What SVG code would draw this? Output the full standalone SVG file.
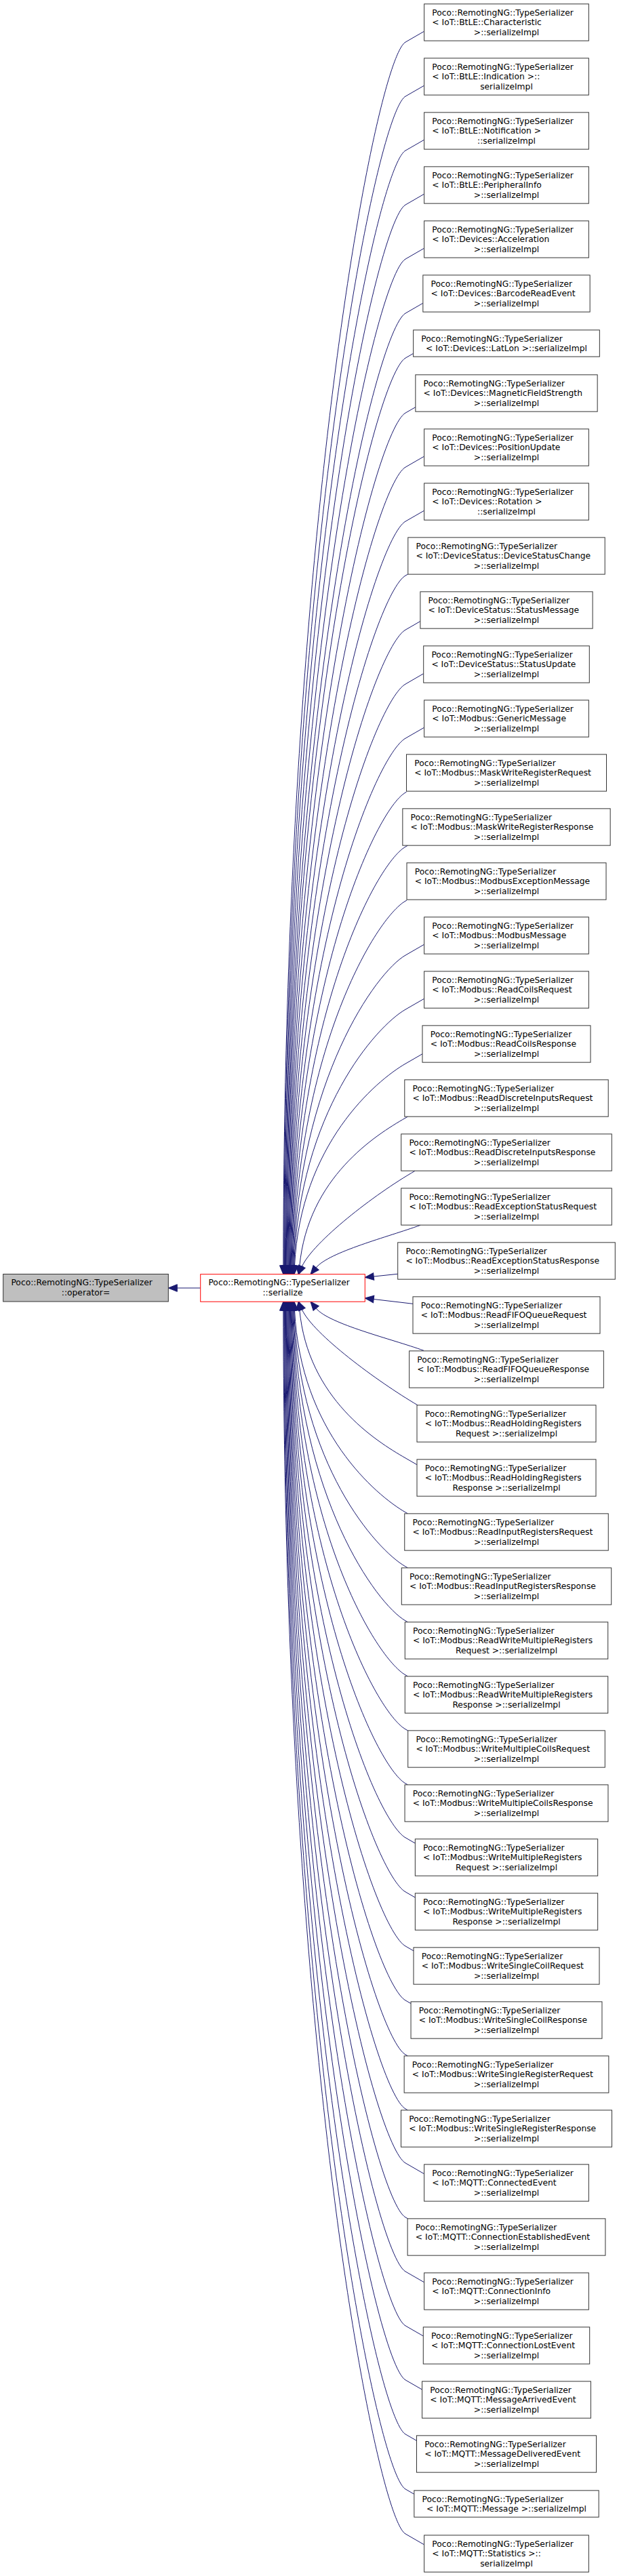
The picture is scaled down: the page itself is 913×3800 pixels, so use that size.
<svg xmlns="http://www.w3.org/2000/svg" width="913" height="3800" viewBox="0 0 913 3800">
<style>
.node rect{fill:#fff;stroke:#333;stroke-width:1}
text{font-family:"DejaVu Sans","Liberation Sans",sans-serif;font-size:12.3px;fill:#000}
.m{text-anchor:middle}
.e{fill:none;stroke:#191970;stroke-width:1;marker-end:url(#ah)}
</style>
<defs>
<marker id="ah" viewBox="-1 -7 16 14" markerWidth="16" markerHeight="14" refX="0" refY="0" orient="auto" markerUnits="userSpaceOnUse"><path d="M0,-5.3 L13,0 L0,5.3 z" fill="#191970" stroke="#191970" stroke-width="1"/></marker>
</defs>
<rect width="913" height="3800" fill="#fff"/>
<g id="edges">
<path class="e" d="M295.7,1900 L261.3,1900"/>
<path class="e" d="M625.65,46.2 L598,62.15 C554.7,87.15 418.3,784.1 417.9,1867"/>
<path class="e" d="M625.65,126.2 L598,142.15 C554.7,167.15 419.6,832.1 418.75,1867"/>
<path class="e" d="M625.65,206.2 L598,222.15 C554.7,247.15 420.9,880.1 419.6,1867"/>
<path class="e" d="M625.65,286.2 L598,302.15 C554.7,327.15 422.25,928.1 420.5,1867"/>
<path class="e" d="M625.65,366.2 L598,382.15 C554.7,407.15 423.6,976.1 421.4,1867"/>
<path class="e" d="M623.85,447.2 L598,462.15 C554.7,487.15 424.9,1024.1 422.25,1867"/>
<path class="e" d="M609.65,521.4 L598,528.15 C554.7,553.15 426.2,1063.7 423.1,1867"/>
<path class="e" d="M612.85,600.6 L598,609.15 C554.7,634.15 427.5,1112.3 424,1867"/>
<path class="e" d="M625.65,673.2 L598,689.15 C554.7,714.15 428.8,1160.3 424.9,1867"/>
<path class="e" d="M625.65,753.2 L598,769.15 C554.7,794.15 430.1,1208.3 425.75,1867"/>
<path class="e" d="M601.8,846.95 L598,849.15 C554.7,874.15 431.4,1256.3 426.6,1867"/>
<path class="e" d="M619.9,916.5 L598,929.15 C554.7,954.15 432.75,1304.3 427.5,1867"/>
<path class="e" d="M624.7,993.7 L598,1009.15 C554.7,1034.15 434.1,1352.3 428.4,1867"/>
<path class="e" d="M625.65,1073.2 L598,1089.15 C554.7,1114.15 435.4,1400.3 429.25,1867"/>
<path class="e" d="M599.5,1168.3 L598,1169.15 C554.7,1194.15 436.7,1448.3 430.1,1867"/>
<path class="e" d="M601.5,1247.15 L598,1249.15 C554.7,1274.15 438,1496.3 431,1867"/>
<path class="e" d="M600,1328 L598,1329.15 C554.7,1354.15 439.4,1544.3 431.9,1867"/>
<path class="e" d="M625.65,1393.2 L598,1409.15 C554.7,1434.15 440.6,1592.3 432.75,1867"/>
<path class="e" d="M625.65,1473.2 L598,1489.15 C554.7,1514.15 441.9,1640.3 433.6,1867"/>
<path class="e" d="M623,1554.7 L598,1569.15 C554.7,1594.15 443.25,1688.3 434.5,1867"/>
<path class="e" d="M601.5,1647.15 L598,1649.15 C554.7,1674.15 454.2,1736.65 441.8,1867.9"/>
<path class="e" d="M612,1727.3 C551.4,1762.3 462.1,1831.8 445.4,1868.2"/>
<path class="e" d="M620,1807.3 C573,1824.4 485.2,1846.8 466.2,1870"/>
<path class="e" d="M586.7,1879.3 L551.2,1883"/>
<path class="e" d="M609,1923.3 L551.2,1916.5"/>
<path class="e" d="M625,1992.3 C578,1975.2 485.2,1953.2 466.2,1930"/>
<path class="e" d="M616,2072.85 C556.4,2037.7 462.1,1968.2 445.4,1931.8"/>
<path class="e" d="M615,2160.7 L598,2150.85 C554.7,2125.85 454.2,2063.35 441.8,1932.1"/>
<path class="e" d="M601.5,2232.85 L598,2230.85 C554.7,2205.85 443.25,2111.7 434.5,1933"/>
<path class="e" d="M601.5,2312.85 L598,2310.85 C554.7,2285.85 441.9,2159.7 433.6,1933"/>
<path class="e" d="M601.5,2392.85 L598,2390.85 C554.7,2365.85 440.6,2207.7 432.75,1933"/>
<path class="e" d="M601.5,2472.85 L598,2470.85 C554.7,2445.85 439.4,2255.7 431.9,1933"/>
<path class="e" d="M601.7,2553 L598,2550.85 C554.7,2525.85 438,2303.7 431,1933"/>
<path class="e" d="M601.5,2632.85 L598,2630.85 C554.7,2605.85 436.7,2351.7 430.1,1933"/>
<path class="e" d="M612.35,2719.1 L598,2710.85 C554.7,2685.85 435.4,2399.7 429.25,1933"/>
<path class="e" d="M612.35,2799.1 L598,2790.85 C554.7,2765.85 434.1,2447.7 428.4,1933"/>
<path class="e" d="M610,2877.8 L598,2870.85 C554.7,2845.85 432.75,2495.7 427.5,1933"/>
<path class="e" d="M606.05,2955.5 L598,2950.85 C554.7,2925.85 431.4,2543.7 426.6,1933"/>
<path class="e" d="M601.5,3032.85 L598,3030.85 C554.7,3005.85 430.1,2591.7 425.75,1933"/>
<path class="e" d="M601.5,3112.85 L598,3110.85 C554.7,3085.85 428.8,2639.7 424.9,1933"/>
<path class="e" d="M625.65,3206.8 L598,3190.85 C554.7,3165.85 427.5,2687.7 424,1933"/>
<path class="e" d="M601.5,3272.85 L598,3270.85 C554.7,3245.85 426.2,2735.7 423.1,1933"/>
<path class="e" d="M625.65,3366.8 L598,3350.85 C554.7,3325.85 424.9,2783.7 422.25,1933"/>
<path class="e" d="M624.3,3446 L598,3430.85 C554.7,3405.85 423.6,2831.7 421.4,1933"/>
<path class="e" d="M622.6,3525 L598,3510.85 C554.7,3485.85 422.25,2879.7 420.5,1933"/>
<path class="e" d="M614.5,3600.4 L598,3590.85 C554.7,3565.85 420.9,2927.7 419.6,1933"/>
<path class="e" d="M610.85,3679.3 L598,3671.85 C554.7,3646.85 419.6,2976.3 418.75,1933"/>
<path class="e" d="M625.65,3753.8 L598,3737.85 C554.7,3712.85 418.3,3015.9 417.9,1933"/>
</g>
<g id="operator_eq" class="node"><rect x="4.7" y="1879.5" width="243.6" height="40.5" style="fill:#bfbfbf"/><text x="16.4" y="1896.2">Poco::RemotingNG::TypeSerializer</text><text class="m" x="126.5" y="1910.9">::operator=</text></g>
<g id="serialize" class="node"><rect x="295.7" y="1879.7" width="242.6" height="40.5" style="stroke:#f00"/><text x="307.4" y="1896.4">Poco::RemotingNG::TypeSerializer</text><text class="m" x="417" y="1911.1">::serialize</text></g>
<g id="n1" class="node" transform="translate(625.65,33)"><rect x="0" y="-27.15" width="242.7" height="54.3"/><text x="11.7" y="-10.2">Poco::RemotingNG::TypeSerializer</text><text x="11.7" y="4.3">&lt; IoT::BtLE::Characteristic</text><text class="m" x="121.35" y="18.8">&gt;::serializeImpl</text></g>
<g id="n2" class="node" transform="translate(625.65,113)"><rect x="0" y="-27.15" width="242.7" height="54.3"/><text x="11.7" y="-10.2">Poco::RemotingNG::TypeSerializer</text><text x="11.7" y="4.3">&lt; IoT::BtLE::Indication &gt;::</text><text class="m" x="121.35" y="18.8">serializeImpl</text></g>
<g id="n3" class="node" transform="translate(625.65,193)"><rect x="0" y="-27.15" width="242.7" height="54.3"/><text x="11.7" y="-10.2">Poco::RemotingNG::TypeSerializer</text><text x="11.7" y="4.3">&lt; IoT::BtLE::Notification &gt;</text><text class="m" x="121.35" y="18.8">::serializeImpl</text></g>
<g id="n4" class="node" transform="translate(625.65,273)"><rect x="0" y="-27.15" width="242.7" height="54.3"/><text x="11.7" y="-10.2">Poco::RemotingNG::TypeSerializer</text><text x="11.7" y="4.3">&lt; IoT::BtLE::PeripheralInfo</text><text class="m" x="121.35" y="18.8">&gt;::serializeImpl</text></g>
<g id="n5" class="node" transform="translate(625.65,353)"><rect x="0" y="-27.15" width="242.7" height="54.3"/><text x="11.7" y="-10.2">Poco::RemotingNG::TypeSerializer</text><text x="11.7" y="4.3">&lt; IoT::Devices::Acceleration</text><text class="m" x="121.35" y="18.8">&gt;::serializeImpl</text></g>
<g id="n6" class="node" transform="translate(623.85,433)"><rect x="0" y="-27.15" width="246.3" height="54.3"/><text x="11.7" y="-10.2">Poco::RemotingNG::TypeSerializer</text><text x="11.7" y="4.3">&lt; IoT::Devices::BarcodeReadEvent</text><text class="m" x="123.15" y="18.8">&gt;::serializeImpl</text></g>
<g id="n7" class="node" transform="translate(609.65,506.5)"><rect x="0" y="-19.65" width="274.7" height="39.3"/><text x="11.7" y="-3">Poco::RemotingNG::TypeSerializer</text><text class="m" x="137.35" y="11.5">&lt; IoT::Devices::LatLon &gt;::serializeImpl</text></g>
<g id="n8" class="node" transform="translate(612.85,580)"><rect x="0" y="-27.15" width="268.3" height="54.3"/><text x="11.7" y="-10.2">Poco::RemotingNG::TypeSerializer</text><text x="11.7" y="4.3">&lt; IoT::Devices::MagneticFieldStrength</text><text class="m" x="134.15" y="18.8">&gt;::serializeImpl</text></g>
<g id="n9" class="node" transform="translate(625.65,660)"><rect x="0" y="-27.15" width="242.7" height="54.3"/><text x="11.7" y="-10.2">Poco::RemotingNG::TypeSerializer</text><text x="11.7" y="4.3">&lt; IoT::Devices::PositionUpdate</text><text class="m" x="121.35" y="18.8">&gt;::serializeImpl</text></g>
<g id="n10" class="node" transform="translate(625.65,740)"><rect x="0" y="-27.15" width="242.7" height="54.3"/><text x="11.7" y="-10.2">Poco::RemotingNG::TypeSerializer</text><text x="11.7" y="4.3">&lt; IoT::Devices::Rotation &gt;</text><text class="m" x="121.35" y="18.8">::serializeImpl</text></g>
<g id="n11" class="node" transform="translate(601.8,820)"><rect x="0" y="-27.15" width="290.4" height="54.3"/><text x="11.7" y="-10.2">Poco::RemotingNG::TypeSerializer</text><text x="11.7" y="4.3">&lt; IoT::DeviceStatus::DeviceStatusChange</text><text class="m" x="145.2" y="18.8">&gt;::serializeImpl</text></g>
<g id="n12" class="node" transform="translate(619.9,900)"><rect x="0" y="-27.15" width="254.2" height="54.3"/><text x="11.7" y="-10.2">Poco::RemotingNG::TypeSerializer</text><text x="11.7" y="4.3">&lt; IoT::DeviceStatus::StatusMessage</text><text class="m" x="127.1" y="18.8">&gt;::serializeImpl</text></g>
<g id="n13" class="node" transform="translate(624.7,980)"><rect x="0" y="-27.15" width="244.6" height="54.3"/><text x="11.7" y="-10.2">Poco::RemotingNG::TypeSerializer</text><text x="11.7" y="4.3">&lt; IoT::DeviceStatus::StatusUpdate</text><text class="m" x="122.3" y="18.8">&gt;::serializeImpl</text></g>
<g id="n14" class="node" transform="translate(625.65,1060)"><rect x="0" y="-27.15" width="242.7" height="54.3"/><text x="11.7" y="-10.2">Poco::RemotingNG::TypeSerializer</text><text x="11.7" y="4.3">&lt; IoT::Modbus::GenericMessage</text><text class="m" x="121.35" y="18.8">&gt;::serializeImpl</text></g>
<g id="n15" class="node" transform="translate(599.5,1140)"><rect x="0" y="-27.15" width="295" height="54.3"/><text x="11.7" y="-10.2">Poco::RemotingNG::TypeSerializer</text><text x="11.7" y="4.3">&lt; IoT::Modbus::MaskWriteRegisterRequest</text><text class="m" x="147.5" y="18.8">&gt;::serializeImpl</text></g>
<g id="n16" class="node" transform="translate(593.85,1220)"><rect x="0" y="-27.15" width="306.3" height="54.3"/><text x="11.7" y="-10.2">Poco::RemotingNG::TypeSerializer</text><text x="11.7" y="4.3">&lt; IoT::Modbus::MaskWriteRegisterResponse</text><text class="m" x="153.15" y="18.8">&gt;::serializeImpl</text></g>
<g id="n17" class="node" transform="translate(600,1300)"><rect x="0" y="-27.15" width="294" height="54.3"/><text x="11.7" y="-10.2">Poco::RemotingNG::TypeSerializer</text><text x="11.7" y="4.3">&lt; IoT::Modbus::ModbusExceptionMessage</text><text class="m" x="147" y="18.8">&gt;::serializeImpl</text></g>
<g id="n18" class="node" transform="translate(625.65,1380)"><rect x="0" y="-27.15" width="242.7" height="54.3"/><text x="11.7" y="-10.2">Poco::RemotingNG::TypeSerializer</text><text x="11.7" y="4.3">&lt; IoT::Modbus::ModbusMessage</text><text class="m" x="121.35" y="18.8">&gt;::serializeImpl</text></g>
<g id="n19" class="node" transform="translate(625.65,1460)"><rect x="0" y="-27.15" width="242.7" height="54.3"/><text x="11.7" y="-10.2">Poco::RemotingNG::TypeSerializer</text><text x="11.7" y="4.3">&lt; IoT::Modbus::ReadCoilsRequest</text><text class="m" x="121.35" y="18.8">&gt;::serializeImpl</text></g>
<g id="n20" class="node" transform="translate(623,1540)"><rect x="0" y="-27.15" width="248" height="54.3"/><text x="11.7" y="-10.2">Poco::RemotingNG::TypeSerializer</text><text x="11.7" y="4.3">&lt; IoT::Modbus::ReadCoilsResponse</text><text class="m" x="124" y="18.8">&gt;::serializeImpl</text></g>
<g id="n21" class="node" transform="translate(596.8,1620)"><rect x="0" y="-27.15" width="300.4" height="54.3"/><text x="11.7" y="-10.2">Poco::RemotingNG::TypeSerializer</text><text x="11.7" y="4.3">&lt; IoT::Modbus::ReadDiscreteInputsRequest</text><text class="m" x="150.2" y="18.8">&gt;::serializeImpl</text></g>
<g id="n22" class="node" transform="translate(591.7,1700)"><rect x="0" y="-27.15" width="310.6" height="54.3"/><text x="11.7" y="-10.2">Poco::RemotingNG::TypeSerializer</text><text x="11.7" y="4.3">&lt; IoT::Modbus::ReadDiscreteInputsResponse</text><text class="m" x="155.3" y="18.8">&gt;::serializeImpl</text></g>
<g id="n23" class="node" transform="translate(591.7,1780)"><rect x="0" y="-27.15" width="310.6" height="54.3"/><text x="11.7" y="-10.2">Poco::RemotingNG::TypeSerializer</text><text x="11.7" y="4.3">&lt; IoT::Modbus::ReadExceptionStatusRequest</text><text class="m" x="155.3" y="18.8">&gt;::serializeImpl</text></g>
<g id="n24" class="node" transform="translate(586.7,1860)"><rect x="0" y="-27.15" width="320.6" height="54.3"/><text x="11.7" y="-10.2">Poco::RemotingNG::TypeSerializer</text><text x="11.7" y="4.3">&lt; IoT::Modbus::ReadExceptionStatusResponse</text><text class="m" x="160.3" y="18.8">&gt;::serializeImpl</text></g>
<g id="n25" class="node" transform="translate(609,1940)"><rect x="0" y="-27.15" width="276" height="54.3"/><text x="11.7" y="-10.2">Poco::RemotingNG::TypeSerializer</text><text x="11.7" y="4.3">&lt; IoT::Modbus::ReadFIFOQueueRequest</text><text class="m" x="138" y="18.8">&gt;::serializeImpl</text></g>
<g id="n26" class="node" transform="translate(603.65,2020)"><rect x="0" y="-27.15" width="286.7" height="54.3"/><text x="11.7" y="-10.2">Poco::RemotingNG::TypeSerializer</text><text x="11.7" y="4.3">&lt; IoT::Modbus::ReadFIFOQueueResponse</text><text class="m" x="143.35" y="18.8">&gt;::serializeImpl</text></g>
<g id="n27" class="node" transform="translate(615,2100)"><rect x="0" y="-27.15" width="264" height="54.3"/><text x="11.7" y="-10.2">Poco::RemotingNG::TypeSerializer</text><text x="11.7" y="4.3">&lt; IoT::Modbus::ReadHoldingRegisters</text><text class="m" x="132" y="18.8">Request &gt;::serializeImpl</text></g>
<g id="n28" class="node" transform="translate(615,2180)"><rect x="0" y="-27.15" width="264" height="54.3"/><text x="11.7" y="-10.2">Poco::RemotingNG::TypeSerializer</text><text x="11.7" y="4.3">&lt; IoT::Modbus::ReadHoldingRegisters</text><text class="m" x="132" y="18.8">Response &gt;::serializeImpl</text></g>
<g id="n29" class="node" transform="translate(596.75,2260)"><rect x="0" y="-27.15" width="300.5" height="54.3"/><text x="11.7" y="-10.2">Poco::RemotingNG::TypeSerializer</text><text x="11.7" y="4.3">&lt; IoT::Modbus::ReadInputRegistersRequest</text><text class="m" x="150.25" y="18.8">&gt;::serializeImpl</text></g>
<g id="n30" class="node" transform="translate(592.3,2340)"><rect x="0" y="-27.15" width="309.4" height="54.3"/><text x="11.7" y="-10.2">Poco::RemotingNG::TypeSerializer</text><text x="11.7" y="4.3">&lt; IoT::Modbus::ReadInputRegistersResponse</text><text class="m" x="154.7" y="18.8">&gt;::serializeImpl</text></g>
<g id="n31" class="node" transform="translate(597.3,2420)"><rect x="0" y="-27.15" width="299.4" height="54.3"/><text x="11.7" y="-10.2">Poco::RemotingNG::TypeSerializer</text><text x="11.7" y="4.3">&lt; IoT::Modbus::ReadWriteMultipleRegisters</text><text class="m" x="149.7" y="18.8">Request &gt;::serializeImpl</text></g>
<g id="n32" class="node" transform="translate(597.3,2500)"><rect x="0" y="-27.15" width="299.4" height="54.3"/><text x="11.7" y="-10.2">Poco::RemotingNG::TypeSerializer</text><text x="11.7" y="4.3">&lt; IoT::Modbus::ReadWriteMultipleRegisters</text><text class="m" x="149.7" y="18.8">Response &gt;::serializeImpl</text></g>
<g id="n33" class="node" transform="translate(601.7,2580)"><rect x="0" y="-27.15" width="290.6" height="54.3"/><text x="11.7" y="-10.2">Poco::RemotingNG::TypeSerializer</text><text x="11.7" y="4.3">&lt; IoT::Modbus::WriteMultipleCoilsRequest</text><text class="m" x="145.3" y="18.8">&gt;::serializeImpl</text></g>
<g id="n34" class="node" transform="translate(597.05,2660)"><rect x="0" y="-27.15" width="299.9" height="54.3"/><text x="11.7" y="-10.2">Poco::RemotingNG::TypeSerializer</text><text x="11.7" y="4.3">&lt; IoT::Modbus::WriteMultipleCoilsResponse</text><text class="m" x="149.95" y="18.8">&gt;::serializeImpl</text></g>
<g id="n35" class="node" transform="translate(612.35,2740)"><rect x="0" y="-27.15" width="269.3" height="54.3"/><text x="11.7" y="-10.2">Poco::RemotingNG::TypeSerializer</text><text x="11.7" y="4.3">&lt; IoT::Modbus::WriteMultipleRegisters</text><text class="m" x="134.65" y="18.8">Request &gt;::serializeImpl</text></g>
<g id="n36" class="node" transform="translate(612.35,2820)"><rect x="0" y="-27.15" width="269.3" height="54.3"/><text x="11.7" y="-10.2">Poco::RemotingNG::TypeSerializer</text><text x="11.7" y="4.3">&lt; IoT::Modbus::WriteMultipleRegisters</text><text class="m" x="134.65" y="18.8">Response &gt;::serializeImpl</text></g>
<g id="n37" class="node" transform="translate(610,2900)"><rect x="0" y="-27.15" width="274" height="54.3"/><text x="11.7" y="-10.2">Poco::RemotingNG::TypeSerializer</text><text x="11.7" y="4.3">&lt; IoT::Modbus::WriteSingleCoilRequest</text><text class="m" x="137" y="18.8">&gt;::serializeImpl</text></g>
<g id="n38" class="node" transform="translate(606.05,2980)"><rect x="0" y="-27.15" width="281.9" height="54.3"/><text x="11.7" y="-10.2">Poco::RemotingNG::TypeSerializer</text><text x="11.7" y="4.3">&lt; IoT::Modbus::WriteSingleCoilResponse</text><text class="m" x="140.95" y="18.8">&gt;::serializeImpl</text></g>
<g id="n39" class="node" transform="translate(596.15,3060)"><rect x="0" y="-27.15" width="301.7" height="54.3"/><text x="11.7" y="-10.2">Poco::RemotingNG::TypeSerializer</text><text x="11.7" y="4.3">&lt; IoT::Modbus::WriteSingleRegisterRequest</text><text class="m" x="150.85" y="18.8">&gt;::serializeImpl</text></g>
<g id="n40" class="node" transform="translate(591.5,3140)"><rect x="0" y="-27.15" width="311" height="54.3"/><text x="11.7" y="-10.2">Poco::RemotingNG::TypeSerializer</text><text x="11.7" y="4.3">&lt; IoT::Modbus::WriteSingleRegisterResponse</text><text class="m" x="155.5" y="18.8">&gt;::serializeImpl</text></g>
<g id="n41" class="node" transform="translate(625.65,3220)"><rect x="0" y="-27.15" width="242.7" height="54.3"/><text x="11.7" y="-10.2">Poco::RemotingNG::TypeSerializer</text><text x="11.7" y="4.3">&lt; IoT::MQTT::ConnectedEvent</text><text class="m" x="121.35" y="18.8">&gt;::serializeImpl</text></g>
<g id="n42" class="node" transform="translate(601.1,3300)"><rect x="0" y="-27.15" width="291.8" height="54.3"/><text x="11.7" y="-10.2">Poco::RemotingNG::TypeSerializer</text><text x="11.7" y="4.3">&lt; IoT::MQTT::ConnectionEstablishedEvent</text><text class="m" x="145.9" y="18.8">&gt;::serializeImpl</text></g>
<g id="n43" class="node" transform="translate(625.65,3380)"><rect x="0" y="-27.15" width="242.7" height="54.3"/><text x="11.7" y="-10.2">Poco::RemotingNG::TypeSerializer</text><text x="11.7" y="4.3">&lt; IoT::MQTT::ConnectionInfo</text><text class="m" x="121.35" y="18.8">&gt;::serializeImpl</text></g>
<g id="n44" class="node" transform="translate(624.3,3460)"><rect x="0" y="-27.15" width="245.4" height="54.3"/><text x="11.7" y="-10.2">Poco::RemotingNG::TypeSerializer</text><text x="11.7" y="4.3">&lt; IoT::MQTT::ConnectionLostEvent</text><text class="m" x="122.7" y="18.8">&gt;::serializeImpl</text></g>
<g id="n45" class="node" transform="translate(622.6,3540)"><rect x="0" y="-27.15" width="248.8" height="54.3"/><text x="11.7" y="-10.2">Poco::RemotingNG::TypeSerializer</text><text x="11.7" y="4.3">&lt; IoT::MQTT::MessageArrivedEvent</text><text class="m" x="124.4" y="18.8">&gt;::serializeImpl</text></g>
<g id="n46" class="node" transform="translate(614.5,3620)"><rect x="0" y="-27.15" width="265" height="54.3"/><text x="11.7" y="-10.2">Poco::RemotingNG::TypeSerializer</text><text x="11.7" y="4.3">&lt; IoT::MQTT::MessageDeliveredEvent</text><text class="m" x="132.5" y="18.8">&gt;::serializeImpl</text></g>
<g id="n47" class="node" transform="translate(610.85,3693.5)"><rect x="0" y="-19.65" width="272.3" height="39.3"/><text x="11.7" y="-3">Poco::RemotingNG::TypeSerializer</text><text class="m" x="136.15" y="11.5">&lt; IoT::MQTT::Message &gt;::serializeImpl</text></g>
<g id="n48" class="node" transform="translate(625.65,3767)"><rect x="0" y="-27.15" width="242.7" height="54.3"/><text x="11.7" y="-10.2">Poco::RemotingNG::TypeSerializer</text><text x="11.7" y="4.3">&lt; IoT::MQTT::Statistics &gt;::</text><text class="m" x="121.35" y="18.8">serializeImpl</text></g>
</svg>
